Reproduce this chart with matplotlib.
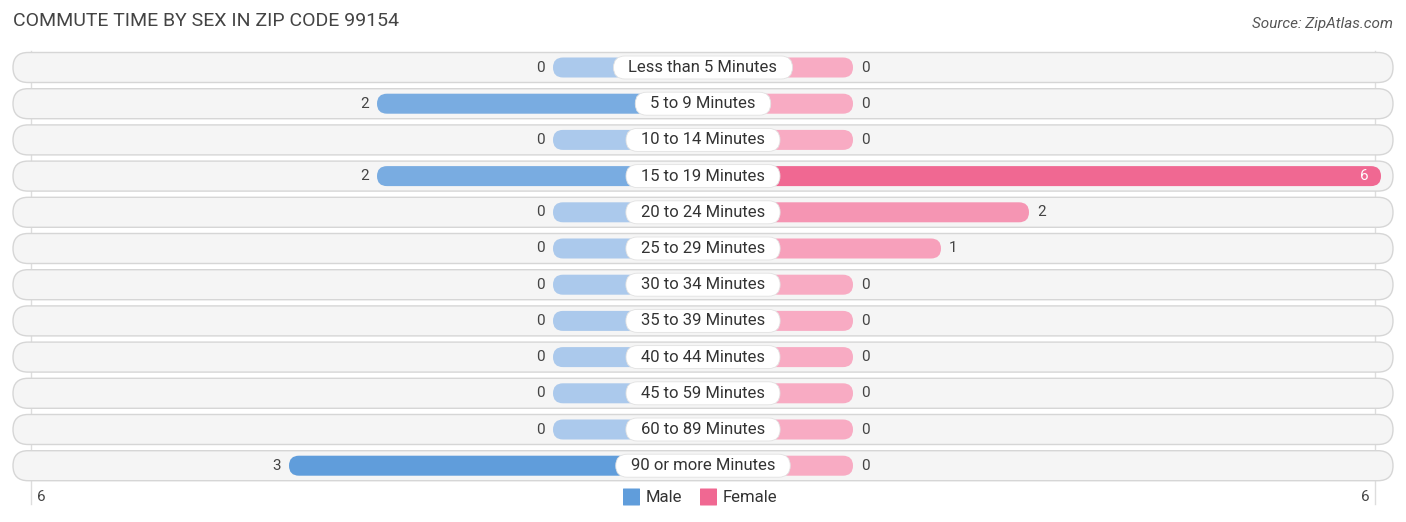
import matplotlib
matplotlib.use("Agg")
import matplotlib.pyplot as plt
import numpy as np
from matplotlib.patches import FancyBboxPatch
from matplotlib.colors import to_rgb

categories = ["Less than 5 Minutes", "5 to 9 Minutes", "10 to 14 Minutes",
              "15 to 19 Minutes", "20 to 24 Minutes", "25 to 29 Minutes",
              "30 to 34 Minutes", "35 to 39 Minutes", "40 to 44 Minutes",
              "45 to 59 Minutes", "60 to 89 Minutes", "90 or more Minutes"]
male = [0, 2, 0, 2, 0, 0, 0, 0, 0, 0, 0, 3]
female = [0, 0, 0, 6, 2, 1, 0, 0, 0, 0, 0, 0]
axis_label = 6

W, H = 1406, 522
PX_X = 88.0      # pixels per unit on x
PX_Y = 36.2      # pixels per row
CX = 703.0       # pixel centre
ROW0 = 67.5      # pixel y of first row
STUB = 150 / PX_X  # bar stub under the label, in units

male_light, male_full = "#abc9ec", "#609ddb"
fem_light, fem_full = "#f8abc3", "#f06892"


def blend(c1, c2, t):
    a, b = np.array(to_rgb(c1)), np.array(to_rgb(c2))
    return tuple(a + (b - a) * t)


fig = plt.figure(figsize=(W / 100, H / 100), dpi=100)
ax = fig.add_axes([0, 0, 1, 1])
ax.set_xlim(-CX / PX_X, (W - CX) / PX_X)
ax.set_ylim((H - ROW0) / PX_Y, -ROW0 / PX_Y)
ax.axis("off")
aspect = PX_X / PX_Y
renderer = fig.canvas.get_renderer()

# light vertical guide lines
for s in (-1, 1):
    ax.plot([s * 672 / PX_X] * 2, [-0.45, 12.05], color="#dddddd", lw=1, zorder=0)

row_h = 30 / PX_Y
bar_h = 20 / PX_Y
lab_h = 23 / PX_Y
mmax = max(male) or 1
fmax = max(female) or 1

for i, cat in enumerate(categories):
    # row background pill
    x0 = (13 - CX) / PX_X
    x1 = (1393 - CX) / PX_X
    ax.add_patch(FancyBboxPatch((x0, i - row_h / 2), x1 - x0, row_h,
                                boxstyle="round,pad=0,rounding_size=%f" % (15 / PX_X),
                                mutation_aspect=aspect, fc="#f5f5f5", ec="#d6d6d6",
                                lw=1, zorder=1))
    # male bar
    mlen = STUB + male[i]
    ax.add_patch(FancyBboxPatch((-mlen, i - bar_h / 2), mlen, bar_h,
                                boxstyle="round,pad=0,rounding_size=%f" % (10 / PX_X),
                                mutation_aspect=aspect,
                                fc=blend(male_light, male_full, male[i] / mmax),
                                ec="none", zorder=2))
    ax.text(-mlen - 8 / PX_X, i, str(male[i]), ha="right", va="center",
            fontsize=11, color="#444444", family="Roboto", zorder=4)
    # female bar
    flen = STUB + female[i]
    ax.add_patch(FancyBboxPatch((0, i - bar_h / 2), flen, bar_h,
                                boxstyle="round,pad=0,rounding_size=%f" % (10 / PX_X),
                                mutation_aspect=aspect,
                                fc=blend(fem_light, fem_full, female[i] / fmax),
                                ec="none", zorder=2))
    if female[i] == fmax and female[i] > 0:
        ax.text(flen - 12 / PX_X, i, str(female[i]), ha="right", va="center",
                fontsize=11, color="white", family="Roboto", zorder=4)
    else:
        ax.text(flen + 8 / PX_X, i, str(female[i]), ha="left", va="center",
                fontsize=11, color="#444444", family="Roboto", zorder=4)
    # category label on a white pill sized to the text
    t = ax.text(0, i, cat, ha="center", va="center", fontsize=12, color="#333333",
                family="Roboto", zorder=5)
    tw = t.get_window_extent(renderer).width / PX_X
    bw = tw + 30 / PX_X
    ax.add_patch(FancyBboxPatch((-bw / 2, i - lab_h / 2), bw, lab_h,
                                boxstyle="round,pad=0,rounding_size=%f" % (11.5 / PX_X),
                                mutation_aspect=aspect, fc="white", ec="#e2e2e2",
                                lw=0.6, zorder=4))

# axis end labels
yb = (497 - ROW0) / PX_Y
ax.text((41 - CX) / PX_X, yb, str(axis_label), ha="center", va="center",
        fontsize=11, color="#444444", family="Roboto")
ax.text((1365 - CX) / PX_X, yb, str(axis_label), ha="center", va="center",
        fontsize=11, color="#444444", family="Roboto")

# legend
sq = 17
for px, col, lab in ((623, male_full, "Male"), (700, fem_full, "Female")):
    ax.add_patch(FancyBboxPatch(((px - CX) / PX_X, yb - sq / 2 / PX_Y), sq / PX_X,
                                sq / PX_Y, boxstyle="round,pad=0,rounding_size=0.01",
                                fc=col, ec="none"))
    ax.text((px + sq + 6 - CX) / PX_X, yb, lab, ha="left", va="center",
            fontsize=12, color="#333333", family="Roboto")

fig.text(13 / W, 1 - 21 / H, "COMMUTE TIME BY SEX IN ZIP CODE 99154", ha="left",
         va="center", fontsize=14, color="#444444", family="Roboto")
fig.text(1393 / W, 1 - 24 / H, "Source: ZipAtlas.com", ha="right", va="center",
         fontsize=11, color="#555555", style="italic", family="Roboto")

fig.savefig("out.png", dpi=100)
